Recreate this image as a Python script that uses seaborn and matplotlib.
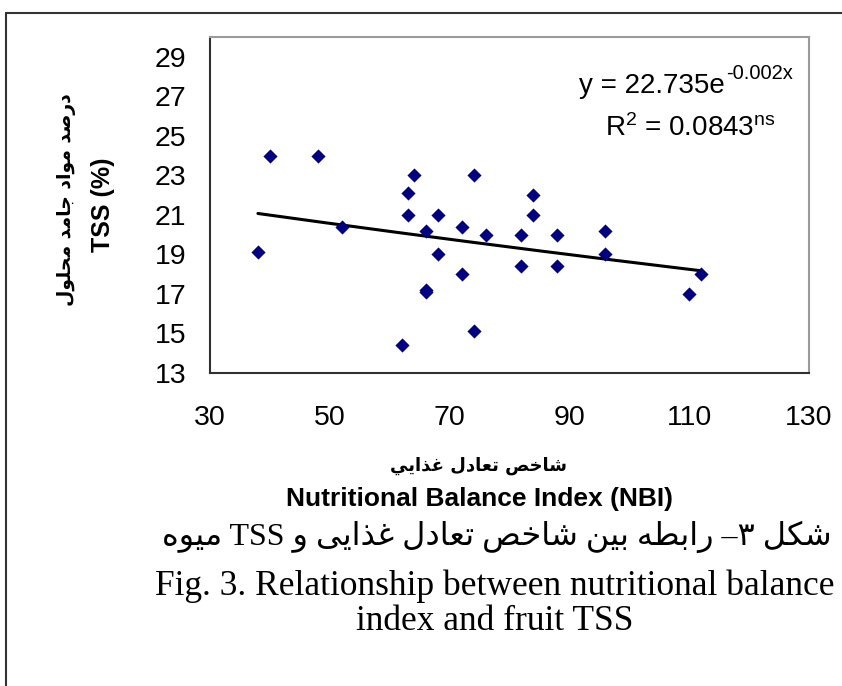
import re
import numpy as np
import pandas as pd
import matplotlib
matplotlib.use("Agg")
import matplotlib.pyplot as plt
import seaborn as sns
from matplotlib.lines import Line2D

# ---------------- data ----------------
NBI = [38, 40, 48, 52, 62, 63, 63, 64, 66, 66, 66, 68, 68, 72, 72, 74, 74, 76,
       82, 82, 84, 84, 88, 88, 96, 96, 110, 112]
TSS = [19.1, 24.0, 24.0, 20.4, 14.4, 22.1, 21.0, 23.0, 20.2, 17.2, 17.1, 21.0,
       19.0, 20.4, 18.0, 23.0, 15.1, 20.0, 20.0, 18.4, 22.0, 21.0, 20.0, 18.4,
       20.2, 19.0, 17.0, 18.0]
TREND_A = 22.735
TREND_B = -0.002
X_TICKS = [30, 50, 70, 90, 110, 130]
Y_TICKS = [13, 15, 17, 19, 21, 23, 25, 27, 29]

EQ_MAIN = "y = 22.735e"
EQ_SUP = "-0.002x"
EQ_LINE2 = "R$^{2}$ = 0.0843$^{ns}$"
YLAB_FA = "درصد مواد جامد محلول"
YLAB_EN = "TSS (%)"
XLAB_FA = "شاخص تعادل غذايي"
XLAB_EN = "Nutritional Balance Index (NBI)"
CAP_FA = "شکل ۳– رابطه بین شاخص تعادل غذایی و TSS میوه"
CAP_EN1 = "Fig. 3. Relationship between nutritional balance"
CAP_EN2 = "index and fruit TSS"

# ------------- Arabic shaping (presentation forms + RTL order) -------------
FORMS = {
    "\u0627": ("\uFE8D", "\uFE8E", None, None),
    "\u0628": ("\uFE8F", "\uFE90", "\uFE91", "\uFE92"),
    "\u062A": ("\uFE95", "\uFE96", "\uFE97", "\uFE98"),
    "\u062C": ("\uFE9D", "\uFE9E", "\uFE9F", "\uFEA0"),
    "\u062D": ("\uFEA1", "\uFEA2", "\uFEA3", "\uFEA4"),
    "\u062E": ("\uFEA5", "\uFEA6", "\uFEA7", "\uFEA8"),
    "\u062F": ("\uFEA9", "\uFEAA", None, None),
    "\u0630": ("\uFEAB", "\uFEAC", None, None),
    "\u0631": ("\uFEAD", "\uFEAE", None, None),
    "\u0634": ("\uFEB5", "\uFEB6", "\uFEB7", "\uFEB8"),
    "\u0635": ("\uFEB9", "\uFEBA", "\uFEBB", "\uFEBC"),
    "\u0637": ("\uFEC1", "\uFEC2", "\uFEC3", "\uFEC4"),
    "\u0639": ("\uFEC9", "\uFECA", "\uFECB", "\uFECC"),
    "\u063A": ("\uFECD", "\uFECE", "\uFECF", "\uFED0"),
    "\u0644": ("\uFEDD", "\uFEDE", "\uFEDF", "\uFEE0"),
    "\u0645": ("\uFEE1", "\uFEE2", "\uFEE3", "\uFEE4"),
    "\u0646": ("\uFEE5", "\uFEE6", "\uFEE7", "\uFEE8"),
    "\u0647": ("\uFEE9", "\uFEEA", "\uFEEB", "\uFEEC"),
    "\u0648": ("\uFEED", "\uFEEE", None, None),
    "\u064A": ("\uFEF1", "\uFEF2", "\uFEF3", "\uFEF4"),
    "\u06A9": ("\uFB8E", "\uFB8F", "\uFB90", "\uFB91"),
    "\u06CC": ("\uFBFC", "\uFBFD", "\uFBFE", "\uFBFF"),
}


def shape(s):
    out = []
    for i, c in enumerate(s):
        if c not in FORMS:
            out.append(c)
            continue
        prev = s[i - 1] if i > 0 else None
        nxt = s[i + 1] if i + 1 < len(s) else None
        jp = prev in FORMS and FORMS[prev][2] is not None
        jn = nxt in FORMS and FORMS[c][2] is not None
        iso, fin, ini, med = FORMS[c]
        out.append(med if (jp and jn) else fin if jp else ini if jn else iso)
    return "".join(out)


def rtl(s):
    rev = shape(s)[::-1]
    return re.sub(r"[A-Za-z0-9]+", lambda m: m.group(0)[::-1], rev)


# ---------------- figure ----------------
sns.set_style("white")
plt.rcParams["font.family"] = ["Liberation Sans", "DejaVu Sans"]
plt.rcParams["mathtext.default"] = "regular"
plt.rcParams["text.color"] = "black"
plt.rcParams["axes.labelcolor"] = "black"
plt.rcParams["xtick.color"] = "black"
plt.rcParams["ytick.color"] = "black"

W, H = 842, 686
fig = plt.figure(figsize=(W / 100, H / 100), dpi=100)
fig.patch.set_facecolor("white")


def fx(px):
    return px / W


def fy(py):
    return 1 - py / H


ax = fig.add_axes([fx(210), fy(373), fx(809) - fx(210), fy(37) - fy(373)])

df = pd.DataFrame({"NBI": NBI, "TSS": TSS})
xfit = np.linspace(min(NBI), max(NBI), 200)
trend = pd.DataFrame({"NBI": xfit, "TSS": TREND_A * np.exp(TREND_B * xfit)})

sns.lineplot(data=trend, x="NBI", y="TSS", color="black", linewidth=2.2, ax=ax)
sns.scatterplot(data=df, x="NBI", y="TSS", marker="D", color="#000080", s=52,
                linewidth=0, ax=ax, legend=False, zorder=3)

ax.set_xlim(30, 130)
ax.set_ylim(13, 30)
ax.set_xticks(X_TICKS)
ax.set_yticks(Y_TICKS)
ax.set_xlabel("")
ax.set_ylabel("")
ax.tick_params(axis="both", direction="out", length=7, width=1.2, color="black",
               labelsize=20.5, labelcolor="black")
ax.tick_params(axis="x", pad=16)
ax.tick_params(axis="y", pad=10)
for side in ("left", "bottom"):
    ax.spines[side].set_color("#303030")
    ax.spines[side].set_linewidth(1.5)
for side in ("top", "right"):
    ax.spines[side].set_color("#9a9a9a")
    ax.spines[side].set_linewidth(1.5)

# equation
fig.text(fx(725), fy(93), EQ_MAIN, ha="right", va="baseline", fontsize=20)
fig.text(fx(726), fy(79), EQ_SUP, ha="left", va="baseline", fontsize=14.5)
fig.text(fx(690), fy(136), EQ_LINE2, ha="center", va="baseline", fontsize=20)

# axis titles
fig.text(fx(67), fy(200), rtl(YLAB_FA), rotation=90, ha="center", va="center",
         fontsize=13.5, fontweight="bold", family=["DejaVu Sans"])
fig.text(fx(103), fy(205), YLAB_EN, rotation=90, ha="center", va="center",
         fontsize=18, fontweight="bold")
fig.text(fx(479), fy(466), rtl(XLAB_FA), ha="center", va="center",
         fontsize=13, fontweight="bold", family=["DejaVu Sans"])
fig.text(fx(480), fy(499), XLAB_EN, ha="center", va="center",
         fontsize=19, fontweight="bold")

# captions
fig.text(fx(497), fy(537), rtl(CAP_FA), ha="center", va="center",
         fontsize=23, family=["Liberation Serif", "DejaVu Sans"])
fig.text(fx(495), fy(586), CAP_EN1, ha="center", va="center",
         fontsize=25.5, family=["Liberation Serif"])
fig.text(fx(495), fy(622), CAP_EN2, ha="center", va="center",
         fontsize=25.5, family=["Liberation Serif"])

# outer frame (top and left edges)
fig.add_artist(Line2D([fx(6), 1.0], [fy(13), fy(13)], transform=fig.transFigure,
                      color="#333333", linewidth=1.5))
fig.add_artist(Line2D([fx(6), fx(6)], [0.0, fy(13)], transform=fig.transFigure,
                      color="#333333", linewidth=1.5))

fig.savefig("out.png", dpi=100, facecolor="white")
